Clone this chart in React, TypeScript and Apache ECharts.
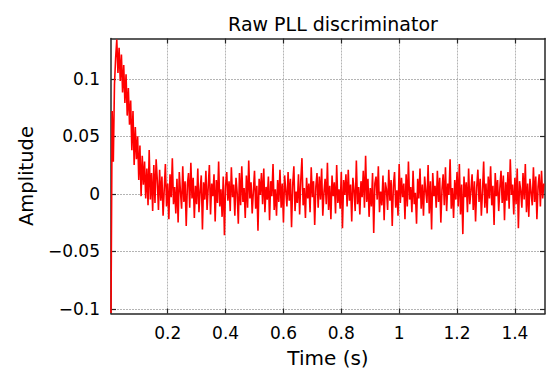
import React, { useEffect, useRef } from "react";
import * as echarts from "echarts";

const titleText = "Raw PLL discriminator";
const xAxisName = "Time (s)";
const yAxisName = "Amplitude";

const xTicks = [0.2, 0.4, 0.6, 0.8, 1.0, 1.2, 1.4];
const xTickLabels = ["0.2", "0.4", "0.6", "0.8", "1", "1.2", "1.4"];
const yTicks = [-0.1, -0.05, 0, 0.05, 0.1];
const yTickLabels = ["\u22120.1", "\u22120.05", "0", "0.05", "0.1"];

const xRange = [0.004, 1.504];
const yRange = [-0.104, 0.135];

// sample time base (s)
const sampleStart = 0.004;
const samplePeriod = 0.004;

// transient (first 40 samples)
const transient = [
  -0.1035, 0.072, 0.028, 0.095, 0.118, 0.134, 0.105, 0.127, 0.098, 0.121,
  0.088, 0.112, 0.079, 0.104, 0.068, 0.092, 0.06, 0.081, 0.038, 0.072,
  0.025, 0.058, 0.03, 0.05, 0.012, 0.042, -0.002, 0.033, 0.008, 0.028,
  -0.004, 0.022, -0.01, 0.038, -0.005, 0.018, -0.015, 0.025, -0.008, 0.03,
];

// steady-state discriminator output
const steady = [
  0.012, -0.014, 0.021, -0.006, 0.015, -0.019, 0.004, 0.026, -0.011, 0.009, -0.022, 0.017, -0.003, 0.031, -0.009,
  0.006, -0.017, 0.013, -0.025, 0.019, 0.002, -0.013, 0.024, -0.007, 0.011, -0.028, 0.008, 0.018, -0.012, 0.027,
  -0.004, 0.014, -0.021, 0.007, -0.009, 0.022, -0.016, 0.003, 0.016, -0.031, 0.01, -0.005, 0.02, -0.014, 0.006,
  0.025, -0.018, 0.009, -0.002, 0.017, -0.024, 0.012, -0.008, 0.028, -0.011, 0.004, -0.02, 0.015, -0.036, 0.007,
  0.019, -0.006, 0.011, -0.015, 0.023, -0.003, 0.008, -0.019, 0.014, 0.001, -0.026, 0.018, -0.01, 0.024, -0.007,
  0.005, -0.021, 0.016, -0.012, 0.029, -0.004, 0.01, -0.017, 0.002, 0.02, -0.013, 0.007, -0.032, 0.013, -0.001,
  0.018, -0.009, 0.022, -0.016, 0.006, -0.005, 0.015, -0.023, 0.011, -0.002, 0.026, -0.014, 0.004, -0.019, 0.012,
  -0.007, 0.021, -0.012, 0.009, -0.025, 0.016, 0.003, -0.011, 0.019, -0.006, 0.013, -0.029, 0.008, 0.024, -0.015,
  0.002, -0.008, 0.017, -0.018, 0.012, 0.031, -0.01, 0.005, -0.021, 0.014, -0.004, 0.009, -0.016, 0.023, -0.003,
  0.011, -0.027, 0.006, 0.018, -0.012, 0.015, -0.005, 0.022, -0.019, 0.001, 0.013, -0.009, 0.027, -0.014, 0.007,
  -0.022, 0.016, -0.002, 0.01, -0.017, 0.025, -0.008, 0.004, -0.013, 0.019, -0.03, 0.012, -0.001, 0.017, -0.011,
  0.021, -0.006, 0.008, -0.024, 0.014, 0.003, -0.015, 0.029, -0.009, 0.006, -0.018, 0.011, -0.003, 0.02, -0.012,
  0.033, -0.007, 0.013, -0.02, 0.005, -0.011, 0.018, -0.034, 0.009, 0.015, -0.005, 0.024, -0.016, 0.002, -0.01,
  0.016, -0.023, 0.01, 0.004, -0.014, 0.021, -0.006, 0.012, -0.028, 0.007, 0.019, -0.012, 0.003, -0.019, 0.026,
  -0.008, 0.014, -0.003, 0.009, -0.022, 0.017, -0.011, 0.028, -0.005, 0.006, -0.016, 0.02, -0.009, 0.001, -0.026,
  0.013, -0.004, 0.022, -0.013, 0.008, -0.019, 0.015, 0.002, -0.008, 0.025, -0.017, 0.011, -0.031, 0.018, -0.002,
  0.007, -0.012, 0.02, -0.007, 0.014, -0.025, 0.004, 0.017, -0.01, 0.023, -0.015, 0.009, -0.001, 0.03, -0.013,
  0.005, -0.021, 0.012, -0.005, 0.019, -0.011, 0.026, -0.018, 0.008, -0.035, 0.015, -0.003, 0.01, -0.016, 0.022,
  -0.009, 0.003, 0.017, -0.014, 0.011, -0.024, 0.006, 0.021, -0.007, 0.013, -0.019, 0.002, 0.028, -0.012, 0.009,
  -0.017, 0.015, -0.004, 0.024, -0.01, 0.007, -0.027, 0.018, -0.002, 0.012, -0.015, 0.005, 0.02, -0.008, 0.016,
  -0.023, 0.01, -0.006, 0.019, -0.013, 0.03, -0.001, 0.008, -0.018, 0.014, -0.009, 0.022, -0.03, 0.011, 0.003,
  -0.012, 0.018, -0.005, 0.026, -0.016, 0.009, -0.02, 0.013, 0.001, -0.01, 0.023, -0.007, 0.015, -0.022, 0.006,
  0.017, -0.011, 0.02, -0.004, 0.009,
];

const amplitude = [...transient, ...steady];

const FONT = "'DejaVu Sans', sans-serif";
const AXIS_COLOR = "#262626";

function labelFor(ticks: number[], labels: string[], v: number) {
  const idx = ticks.findIndex((t) => Math.abs(t - v) < 1e-9);
  return idx >= 0 ? labels[idx] : "";
}

export default function App() {
  const ref = useRef<HTMLDivElement>(null);

  useEffect(() => {
    if (!ref.current) return;
    const chart = echarts.init(ref.current, null, { renderer: "svg" });
    const data = amplitude.map((v, i) => [sampleStart + i * samplePeriod, v]);

    const axisLineStyle = { color: AXIS_COLOR, width: 1.5 };
    const tickStyle = { color: AXIS_COLOR, width: 1.2 };
    const gridStyle = { color: "#b4b4b4", width: 1, type: [2, 1] as any };

    chart.setOption({
      animation: false,
      backgroundColor: "#ffffff",
      textStyle: { fontFamily: FONT },
      title: {
        text: titleText,
        left: 328,
        top: 9,
        textAlign: "center",
        textStyle: { fontFamily: FONT, fontSize: 19, fontWeight: "normal", color: "#000" },
      },
      grid: { left: 111, top: 38.5, right: 3, bottom: 66.5, containLabel: false },
      xAxis: [
        {
          type: "value",
          position: "bottom",
          min: xRange[0],
          max: xRange[1],
          name: xAxisName,
          nameLocation: "middle",
          nameGap: 34,
          nameTextStyle: { fontFamily: FONT, fontSize: 20, color: "#000" },
          axisLine: { show: true, onZero: false, lineStyle: axisLineStyle },
          axisTick: { show: true, inside: true, length: 5, customValues: xTicks, lineStyle: tickStyle },
          axisLabel: {
            show: true,
            customValues: xTicks,
            margin: 11,
            fontFamily: FONT,
            fontSize: 17,
            color: "#000",
            formatter: (v: number) => labelFor(xTicks, xTickLabels, v),
          },
          splitLine: { show: true, lineStyle: gridStyle },
        },
        {
          type: "value",
          position: "top",
          min: xRange[0],
          max: xRange[1],
          axisLine: { show: true, onZero: false, lineStyle: axisLineStyle },
          axisTick: { show: true, inside: true, length: 5, customValues: xTicks, lineStyle: tickStyle },
          axisLabel: { show: false },
          splitLine: { show: false },
        },
      ],
      yAxis: [
        {
          type: "value",
          position: "left",
          min: yRange[0],
          max: yRange[1],
          name: yAxisName,
          nameLocation: "middle",
          nameGap: 75,
          nameRotate: 90,
          nameTextStyle: { fontFamily: FONT, fontSize: 19.5, color: "#000" },
          axisLine: { show: true, onZero: false, lineStyle: axisLineStyle },
          axisTick: { show: true, inside: true, length: 5, customValues: yTicks, lineStyle: tickStyle },
          axisLabel: {
            show: true,
            customValues: yTicks,
            margin: 11,
            fontFamily: FONT,
            fontSize: 17,
            color: "#000",
            formatter: (v: number) => labelFor(yTicks, yTickLabels, v),
          },
          splitLine: { show: true, lineStyle: gridStyle },
        },
        {
          type: "value",
          position: "right",
          min: yRange[0],
          max: yRange[1],
          axisLine: { show: true, onZero: false, lineStyle: axisLineStyle },
          axisTick: { show: true, inside: true, length: 5, customValues: yTicks, lineStyle: tickStyle },
          axisLabel: { show: false },
          splitLine: { show: false },
        },
      ],
      series: [
        {
          type: "line",
          xAxisIndex: 0,
          yAxisIndex: 0,
          data,
          showSymbol: false,
          symbol: "none",
          lineStyle: { color: "#ff0000", width: 1.6 },
          z: 5,
        },
      ],
    });

    return () => chart.dispose();
  }, []);

  return (
    <div
      ref={ref}
      style={{ position: "fixed", left: 0, top: 0, width: 548, height: 380 }}
    />
  );
}
